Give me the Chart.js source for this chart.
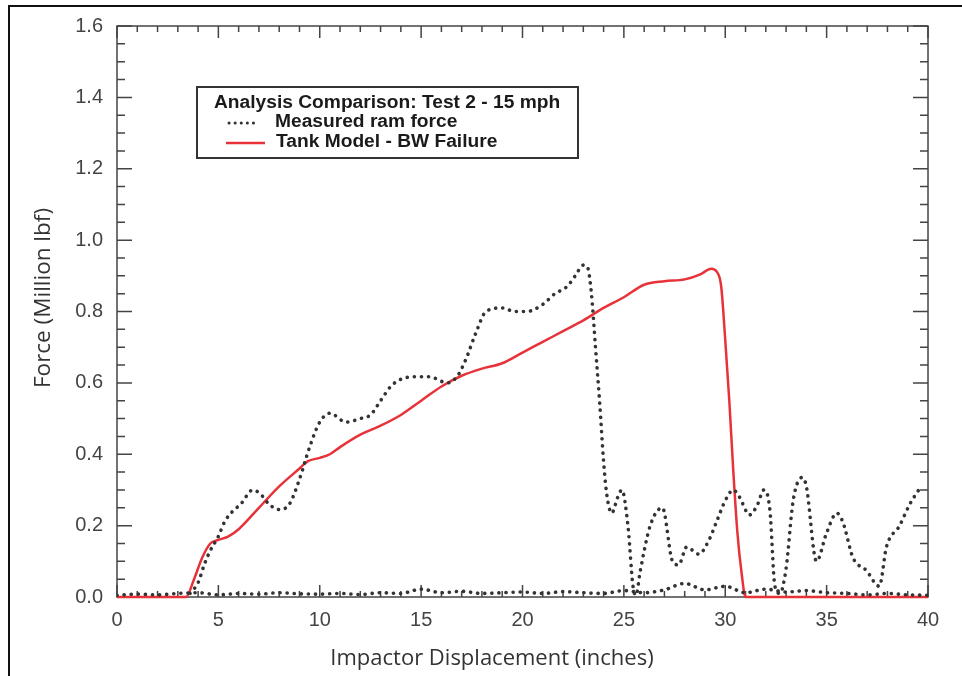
<!DOCTYPE html>
<html>
<head>
<meta charset="utf-8">
<script src="https://cdn.jsdelivr.net/npm/chart.js@4.4.1/dist/chart.umd.min.js"></script>
<style>
  html, body { margin: 0; padding: 0; background: #fff; }
  #wrap { position: relative; width: 962px; height: 676px; overflow: hidden; }
  #frame { position: absolute; left: 8px; top: 5px; width: 1000px; height: 700px;
           border-top: 2px solid #111; border-left: 2px solid #111; pointer-events: none; }
  canvas { position: absolute; left: 0; top: 0; }
</style>
</head>
<body>
<div id="wrap">
  <canvas id="chart" width="962" height="676"></canvas>
  <div id="frame"></div>
</div>
<script>
// Measured ram force (dotted)
const measuredX = [3.6, 4.0, 4.3, 4.6, 5.0, 5.3, 5.7, 6.1, 6.7, 7.05, 7.5, 8.0, 8.5, 9.0, 9.5, 10.0, 10.5, 11.3, 12.0, 12.5,
  13.0, 13.5, 14.0, 14.6, 15.4, 16.3, 16.8, 17.2, 17.7, 18.2, 19.0, 19.6, 20.2, 21.0, 21.6, 22.2, 22.6, 23.0, 23.2, 23.4,
  23.6, 23.8, 24.0, 24.15, 24.4, 24.7, 24.9, 25.2, 25.45, 25.6, 25.8, 26.3, 26.9, 27.4, 27.7, 28.1, 28.7, 29.2, 29.6, 30.0,
  30.4, 30.7, 31.2, 31.6, 31.9, 32.2, 32.45, 32.7, 33.0, 33.35, 33.8, 34.0, 34.5, 35.0, 35.5, 35.8, 36.3, 36.95, 37.6, 37.95,
  38.6, 39.1, 39.6];
const measuredY = [0.01, 0.04, 0.09, 0.13, 0.17, 0.21, 0.24, 0.26, 0.30, 0.29, 0.26, 0.245, 0.26, 0.33, 0.42, 0.49, 0.515, 0.49, 0.50, 0.51,
  0.55, 0.59, 0.61, 0.617, 0.617, 0.60, 0.62, 0.665, 0.74, 0.80, 0.81, 0.80, 0.80, 0.82, 0.85, 0.87, 0.90, 0.93, 0.925, 0.85,
  0.70, 0.55, 0.38, 0.29, 0.235, 0.28, 0.30, 0.20, 0.03, 0.005, 0.07, 0.20, 0.25, 0.10, 0.09, 0.14, 0.12, 0.16, 0.215, 0.27,
  0.30, 0.28, 0.23, 0.26, 0.30, 0.245, 0.03, 0.01, 0.08, 0.27, 0.335, 0.31, 0.10, 0.18, 0.235, 0.21, 0.11, 0.075, 0.03, 0.14,
  0.20, 0.26, 0.305];

// second measured trace that stays near zero
const baselineX = [0, 1, 2, 3, 4, 5, 6, 7, 8, 9, 10, 11, 12, 13, 14, 15, 16, 17, 18, 19, 20,
  21, 22, 23, 24, 25, 26, 27, 28, 29, 30, 31, 32, 33, 34, 35, 36, 37, 38, 39, 40];
const baselineY = [0.005, 0.008, 0.006, 0.01, 0.012, 0.006, 0.01, 0.008, 0.012, 0.009, 0.008, 0.01, 0.007, 0.012, 0.01, 0.022, 0.012, 0.016, 0.01, 0.012, 0.014,
  0.01, 0.015, 0.012, 0.01, 0.018, 0.012, 0.02, 0.038, 0.02, 0.03, 0.012, 0.022, 0.014, 0.018, 0.012, 0.01, 0.006, 0.01, 0.006, 0.005];

// Tank Model - BW Failure (red)
const tankX = [0, 3.4, 3.8, 4.2, 4.6, 5.0, 5.5, 6.0, 7.0, 8.0, 9.0, 9.4, 10.0, 10.5, 11, 12, 13, 14, 15, 16, 17, 18, 19, 20,
  21, 22, 23, 24, 25, 26, 27, 28, 28.8, 29.3, 29.6, 29.8, 30.0, 30.2, 30.4, 30.6, 30.8, 31.0, 40];
const tankY = [0, 0, 0.05, 0.11, 0.15, 0.16, 0.17, 0.19, 0.25, 0.31, 0.36, 0.38, 0.39, 0.40, 0.42, 0.455, 0.48, 0.51, 0.55, 0.59, 0.62, 0.64, 0.655, 0.685,
  0.715, 0.745, 0.775, 0.81, 0.84, 0.875, 0.885, 0.89, 0.905, 0.92, 0.91, 0.87, 0.72, 0.55, 0.35, 0.18, 0.07, 0, 0];

const xMin = 0, xMax = 40, xStep = 5;
const yMin = 0, yMax = 1.6, yStep = 0.2;
const legendTitle = 'Analysis Comparison: Test 2 - 15 mph';
const xTitle = 'Impactor Displacement (inches)';
const yTitle = 'Force (Million lbf)';

const toPoints = (xs, ys) => xs.map((x, i) => ({x: x, y: ys[i]}));

const dotted = {
  borderColor: '#333',
  borderWidth: 3.6,
  borderDash: [0.1, 7],
  borderCapStyle: 'round',
  pointRadius: 0,
  fill: false,
  cubicInterpolationMode: 'monotone'
};

// inward ticks + box round the plot, IDL style
const frameTicks = {
  id: 'frameTicks',
  beforeDatasetsDraw(chart) {
    const {ctx, chartArea: a, scales: {x, y}} = chart;
    ctx.save();
    ctx.strokeStyle = '#444';
    ctx.lineWidth = 1.5;
    ctx.strokeRect(a.left, a.top, a.right - a.left, a.bottom - a.top);
    ctx.beginPath();
    for (let v = xMin; v <= xMax; v += 1) {
      const px = x.getPixelForValue(v);
      const len = v % 5 === 0 ? 12 : 6;
      ctx.moveTo(px, a.bottom); ctx.lineTo(px, a.bottom - len);
      ctx.moveTo(px, a.top); ctx.lineTo(px, a.top + len);
    }
    for (let i = 0; i <= 32; i++) {
      const py = y.getPixelForValue(i * 0.05);
      const len = i % 4 === 0 ? 15 : 8;
      ctx.moveTo(a.left, py); ctx.lineTo(a.left + len, py);
      ctx.moveTo(a.right, py); ctx.lineTo(a.right - len, py);
    }
    ctx.stroke();
    ctx.restore();
  }
};

// axis titles sit a bit off-centre in the original, so draw them here
const axisTitles = {
  id: 'axisTitles',
  afterDraw(chart) {
    const {ctx} = chart;
    ctx.save();
    ctx.fillStyle = '#333';
    ctx.textAlign = 'center';
    ctx.textBaseline = 'middle';
    ctx.font = '22px "Open Sans", sans-serif';
    ctx.fillText(xTitle, 492, 659);
    ctx.translate(44, 298);
    ctx.rotate(-Math.PI / 2);
    ctx.font = '22.5px "Open Sans", sans-serif';
    ctx.fillText(yTitle, 0, 0);
    ctx.restore();
  }
};

// boxed legend inside the plot
const boxLegend = {
  id: 'boxLegend',
  afterDraw(chart) {
    const {ctx} = chart;
    const ds = chart.data.datasets;
    const bx = 197, by = 87, bw = 381, bh = 71;
    ctx.save();
    ctx.fillStyle = '#fff';
    ctx.fillRect(bx, by, bw, bh);
    ctx.strokeStyle = '#333';
    ctx.lineWidth = 2;
    ctx.strokeRect(bx, by, bw, bh);
    ctx.fillStyle = '#1a1a1a';
    ctx.textBaseline = 'middle';
    ctx.font = 'bold 19.2px "Liberation Sans", Arial, sans-serif';
    ctx.fillText(legendTitle, 214, 103);
    ctx.fillText(ds[0].label, 275, 122);
    ctx.fillText(ds[2].label, 276, 142);
    // samples
    ctx.lineCap = 'round';
    ctx.strokeStyle = ds[0].borderColor;
    ctx.lineWidth = 3;
    ctx.setLineDash([0.1, 6]);
    ctx.beginPath(); ctx.moveTo(229, 123); ctx.lineTo(258, 123); ctx.stroke();
    ctx.setLineDash([]);
    ctx.lineCap = 'butt';
    ctx.strokeStyle = ds[2].borderColor;
    ctx.lineWidth = 2.5;
    ctx.beginPath(); ctx.moveTo(226, 143); ctx.lineTo(265, 143); ctx.stroke();
    ctx.restore();
  }
};

new Chart(document.getElementById('chart'), {
  type: 'line',
  data: {
    datasets: [
      Object.assign({label: 'Measured ram force', data: toPoints(measuredX, measuredY)}, dotted),
      Object.assign({label: 'Measured ram force (baseline)', data: toPoints(baselineX, baselineY)}, dotted),
      {
        label: 'Tank Model - BW Failure',
        data: toPoints(tankX, tankY),
        borderColor: '#e8323a',
        borderWidth: 2.5,
        pointRadius: 0,
        fill: false,
        clip: 4,
        cubicInterpolationMode: 'monotone'
      }
    ]
  },
  options: {
    responsive: false,
    animation: false,
    layout: { padding: { left: 0, top: 26, right: 34, bottom: 0 } },
    plugins: {
      legend: { display: false },
      tooltip: { enabled: false }
    },
    scales: {
      x: {
        type: 'linear',
        min: xMin, max: xMax,
        grid: { display: false, drawTicks: false },
        border: { display: false },
        ticks: { stepSize: xStep, padding: 11, color: '#444',
                 font: { family: '"Liberation Sans", Arial, sans-serif', size: 20 } },
        title: { display: false },
        afterFit: (s) => { s.height = 79; }
      },
      y: {
        min: yMin, max: yMax,
        grid: { display: false, drawTicks: false },
        border: { display: false },
        ticks: { stepSize: yStep, padding: 14, color: '#444',
                 callback: (v) => v.toFixed(1),
                 font: { family: '"Liberation Sans", Arial, sans-serif', size: 20 } },
        title: { display: false },
        afterFit: (s) => { s.width = 117; }
      }
    }
  },
  plugins: [frameTicks, axisTitles, boxLegend]
});
</script>
</body>
</html>
